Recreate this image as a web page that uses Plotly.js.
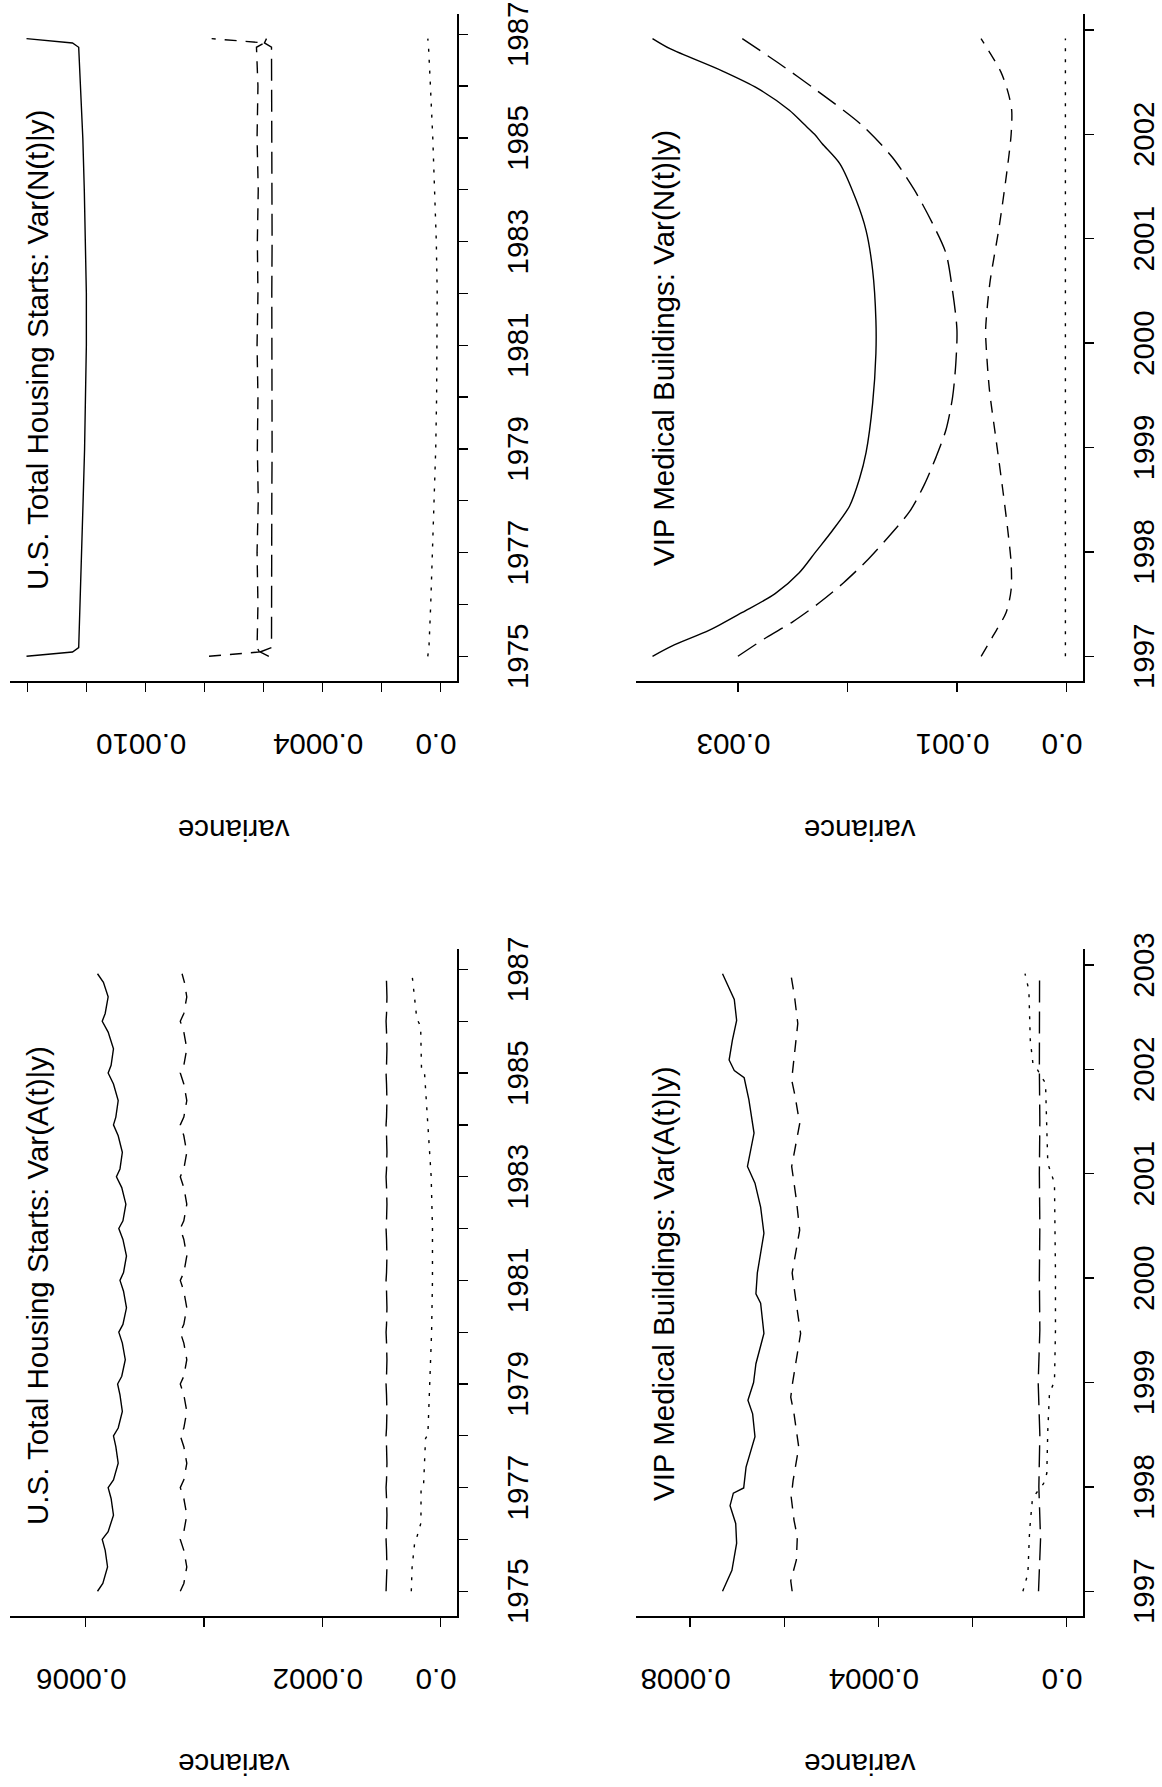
<!DOCTYPE html>
<html>
<head>
<meta charset="utf-8">
<script src="https://cdn.plot.ly/plotly-3.0.1.min.js"></script>
<style>
  html, body { margin: 0; padding: 0; background: #fff; overflow: hidden; }
  body { width: 1162px; height: 1787px; position: relative; }
  /* figure is laid out landscape, then turned a quarter turn to the left (like the printed page) */
  #fig { position: absolute; left: 0; top: 0; width: 1787px; height: 1162px;
         transform-origin: 0 0; transform: translateY(1787px) rotate(-90deg); }
</style>
</head>
<body>
<div id="fig"></div>
<script>
/* =========================
   Data
========================= */
const HOUSING_YEAR_TICKS = [1975, 1976, 1977, 1978, 1979, 1980, 1981, 1982, 1983, 1984, 1985, 1986, 1987];
const HOUSING_YEAR_LABELS = ["1975", "", "1977", "", "1979", "", "1981", "", "1983", "", "1985", "", "1987"];
const MEDICAL_YEAR_TICKS = [1997, 1998, 1999, 2000, 2001, 2002, 2003];
const MEDICAL_YEAR_LABELS = ["1997", "1998", "1999", "2000", "2001", "2002", "2003"];

const HS_A_VAR_TICKS = [0, 0.0002, 0.0004, 0.0006];
const HS_A_VAR_LABELS = ["0.0", "0.0002", "", "0.0006"];
const HS_N_VAR_TICKS = [0, 0.0002, 0.0004, 0.0006, 0.0008, 0.0010, 0.0012, 0.0014];
const HS_N_VAR_LABELS = ["0.0", "", "0.0004", "", "", "0.0010", "", ""];
const MD_A_VAR_TICKS = [0, 0.0002, 0.0004, 0.0006, 0.0008];
const MD_A_VAR_LABELS = ["0.0", "", "0.0004", "", "0.0008"];
const MD_N_VAR_TICKS = [0, 0.001, 0.002, 0.003];
const MD_N_VAR_LABELS = ["0.0", "0.001", "", "0.003"];

const PANEL_TITLES = [
  "U.S. Total Housing Starts: Var(A(t)|y)",
  "U.S. Total Housing Starts: Var(N(t)|y)",
  "VIP Medical Buildings: Var(A(t)|y)",
  "VIP Medical Buildings: Var(N(t)|y)"
];
const AXIS_TITLE = "variance";

// U.S. housing starts, Var(A(t)|y)
const hsA_t = [1975.0, 1975.15, 1975.47, 1975.79, 1976.0, 1976.15, 1976.47, 1976.79, 1977.0, 1977.15, 1977.47, 1977.79,
  1978.0, 1978.15, 1978.47, 1978.79, 1979.0, 1979.15, 1979.47, 1979.79, 1980.0, 1980.15, 1980.47, 1980.79,
  1981.0, 1981.15, 1981.47, 1981.79, 1982.0, 1982.15, 1982.47, 1982.79, 1983.0, 1983.15, 1983.47, 1983.79,
  1984.0, 1984.15, 1984.47, 1984.79, 1985.0, 1985.15, 1985.47, 1985.79, 1986.0, 1986.15, 1986.47, 1986.75, 1986.917];
const hsA_solid = [0.000580, 0.000571, 0.000563, 0.000567, 0.000572, 0.000562, 0.000553, 0.000557, 0.000562, 0.000553, 0.000545, 0.000549,
  0.000553, 0.000545, 0.000538, 0.000542, 0.000546, 0.000539, 0.000533, 0.000538, 0.000544, 0.000537, 0.000531, 0.000536,
  0.000542, 0.000536, 0.000531, 0.000537, 0.000544, 0.000537, 0.000532, 0.000539, 0.000548, 0.000542, 0.000538, 0.000545,
  0.000553, 0.000549, 0.000545, 0.000553, 0.000562, 0.000557, 0.000553, 0.000562, 0.000572, 0.000567, 0.000562, 0.000570, 0.000580];
const hsA_short = [0.000440, 0.000434, 0.000429, 0.000434, 0.000440, 0.000434, 0.000429, 0.000434, 0.000440, 0.000434, 0.000429, 0.000434,
  0.000440, 0.000434, 0.000429, 0.000434, 0.000440, 0.000434, 0.000429, 0.000434, 0.000440, 0.000434, 0.000429, 0.000434,
  0.000440, 0.000434, 0.000429, 0.000434, 0.000440, 0.000434, 0.000429, 0.000434, 0.000440, 0.000434, 0.000429, 0.000434,
  0.000440, 0.000434, 0.000429, 0.000434, 0.000440, 0.000434, 0.000429, 0.000434, 0.000440, 0.000434, 0.000429, 0.000433, 0.000437];
const hsA_long = [0.0000920, 0.0000912, 0.0000905, 0.0000912, 0.0000920, 0.0000912, 0.0000905, 0.0000912, 0.0000920, 0.0000912, 0.0000905, 0.0000912,
  0.0000920, 0.0000912, 0.0000905, 0.0000912, 0.0000920, 0.0000912, 0.0000905, 0.0000912, 0.0000920, 0.0000912, 0.0000905, 0.0000912,
  0.0000920, 0.0000912, 0.0000905, 0.0000912, 0.0000920, 0.0000912, 0.0000905, 0.0000912, 0.0000920, 0.0000912, 0.0000905, 0.0000912,
  0.0000920, 0.0000912, 0.0000905, 0.0000912, 0.0000920, 0.0000912, 0.0000905, 0.0000912, 0.0000920, 0.0000912, 0.0000905, 0.0000912, 0.0000918];
const hsA_dot_t = [1975.0, 1975.46, 1975.93, 1976.06, 1976.32, 1976.98, 1977.04, 1977.95, 1978.02, 1979.0, 1980.0, 1981.0,
  1982.0, 1983.0, 1984.05, 1985.0, 1985.05, 1985.9, 1986.05, 1986.917];
const hsA_dot = [0.0000493, 0.0000480, 0.0000437, 0.0000395, 0.0000330, 0.0000328, 0.0000286, 0.0000252, 0.0000213, 0.0000180, 0.0000150, 0.0000135,
  0.0000135, 0.0000157, 0.0000213, 0.0000269, 0.0000320, 0.0000335, 0.0000400, 0.0000482];

// U.S. housing starts, Var(N(t)|y)
const hsN_t = [1975.0, 1975.083, 1975.167, 1976, 1977, 1978, 1979, 1980, 1981, 1982, 1983, 1984, 1985, 1986, 1986.75, 1986.833, 1986.917];
const hsN_solid = [0.001404, 0.001248, 0.001227, 0.001222, 0.001216, 0.001212, 0.001207, 0.001204, 0.001201, 0.001201, 0.001204, 0.001208, 0.001213, 0.001220, 0.001227, 0.001248, 0.001404];
const hsN_short = [0.000785, 0.000614, 0.000622, 0.000619, 0.000622, 0.000618, 0.000621, 0.000619, 0.000622, 0.000619, 0.000621, 0.000618, 0.000622, 0.000619, 0.000624, 0.000597, 0.000776];
const hsN_long = [0.000582, 0.000612, 0.000573, 0.000572, 0.000573, 0.000572, 0.000571, 0.000572, 0.000571, 0.000572, 0.000571, 0.000572, 0.000573, 0.000572, 0.000573, 0.000597, 0.000590];
const hsN_dot = [0.000043, 0.000041, 0.000039, 0.000033, 0.000027, 0.000021, 0.000016, 0.000013, 0.000011, 0.000011, 0.000014, 0.000019, 0.000026, 0.000034, 0.000039, 0.000041, 0.000043];

// VIP medical buildings, Var(A(t)|y)
const mdA_solid_t = [1997.0, 1997.2, 1997.46, 1997.65, 1997.82, 1997.94, 1997.99, 1998.19, 1998.48, 1998.70, 1998.83, 1999.0, 1999.18,
  1999.47, 1999.76, 1999.85, 2000.05, 2000.43, 2000.68, 2000.91, 2001.07, 2001.39, 2001.71, 2001.92, 2001.99, 2002.09, 2002.28, 2002.47, 2002.67, 2002.917];
const mdA_solid = [0.000731, 0.000711, 0.000701, 0.000703, 0.000715, 0.000708, 0.000686, 0.000681, 0.000662, 0.000667, 0.000677, 0.000665, 0.000660,
  0.000643, 0.000650, 0.000660, 0.000657, 0.000643, 0.000650, 0.000662, 0.000678, 0.000664, 0.000675, 0.000685, 0.000706, 0.000717, 0.000710, 0.000701, 0.000706, 0.000731];
const mdA_short_t = [1997.0, 1997.1, 1997.3, 1997.52, 1997.68, 1997.9, 1998.06, 1998.38, 1998.70, 1998.86, 1999.0, 1999.47, 1999.75,
  2000.05, 2000.46, 2000.75, 2001.07, 2001.48, 2001.75, 2001.9, 2002.44, 2002.7, 2002.917];
const mdA_short = [0.000583, 0.000586, 0.000574, 0.000572, 0.000579, 0.000585, 0.000581, 0.000569, 0.000579, 0.000586, 0.000582, 0.000565, 0.000574,
  0.000583, 0.000567, 0.000574, 0.000584, 0.000567, 0.000577, 0.000584, 0.000571, 0.000578, 0.000586];
const mdA_long_t = [1997.0, 1997.5, 1998.0, 1998.5, 1999.0, 1999.5, 2000.0, 2000.5, 2001.0, 2001.5, 2002.0, 2002.5, 2002.917];
const mdA_long = [0.0000593, 0.0000550, 0.0000586, 0.0000565, 0.0000600, 0.0000565, 0.0000575, 0.0000565, 0.0000575, 0.0000565, 0.0000575, 0.0000568, 0.0000571];
const mdA_dot_t = [1997.0, 1997.17, 1997.58, 1997.87, 1997.94, 1998.03, 1998.13, 1998.54, 1998.90, 1999.01, 1999.5, 2000.05,
  2000.91, 2001.0, 2001.10, 2001.64, 2001.87, 2001.93, 2001.99, 2002.06, 2002.28, 2002.76, 2002.917];
const mdA_dot = [0.0000925, 0.0000819, 0.0000783, 0.0000726, 0.0000641, 0.0000487, 0.0000417, 0.0000396, 0.0000360, 0.0000254, 0.0000233, 0.0000233,
  0.0000254, 0.0000324, 0.0000396, 0.0000430, 0.0000444, 0.0000535, 0.0000607, 0.0000713, 0.0000768, 0.0000798, 0.0000880];

// VIP medical buildings, Var(N(t)|y)
const mdN_solid_t = [1997.0, 1997.1, 1997.25, 1997.42, 1997.6, 1997.8, 1998.0, 1998.2, 1998.44, 1998.7, 1998.95, 1999.42, 1999.9,
  2000.22, 2000.7, 2001.08, 2001.37, 2001.72, 2001.91, 2002.0, 2002.1, 2002.23, 2002.44, 2002.61, 2002.82, 2002.917];
const mdN_solid = [0.00378, 0.00360, 0.00326, 0.00296, 0.00266, 0.00244, 0.00229, 0.00214, 0.00198, 0.00189, 0.00183, 0.00177, 0.00174,
  0.00174, 0.00177, 0.00183, 0.00192, 0.00207, 0.00223, 0.00230, 0.00240, 0.00253, 0.00282, 0.00315, 0.00362, 0.00378];
const mdN_long_t = [1997.0, 1997.18, 1997.33, 1997.51, 1997.70, 1997.93, 1998.15, 1998.39, 1998.64, 1998.91, 1999.17, 1999.48,
  1999.81, 2000.13, 2000.50, 2000.86, 2001.14, 2001.47, 2001.78, 2002.09, 2002.42, 2002.69, 2002.917];
const mdN_long = [0.00300, 0.00274, 0.00250, 0.00226, 0.00204, 0.00181, 0.00162, 0.00143, 0.00130, 0.00119, 0.00110, 0.00104,
  0.00101, 0.00100, 0.00104, 0.00110, 0.00122, 0.00139, 0.00159, 0.00187, 0.00228, 0.00264, 0.00296];
const mdN_short_t = [1997.0, 1997.19, 1997.42, 1997.64, 1997.89, 1998.21, 1998.60, 1999.07, 1999.55, 1999.97, 2000.13, 2000.57,
  2001.11, 2001.69, 2002.0, 2002.23, 2002.39, 2002.6, 2002.917];
const mdN_short = [0.000779, 0.000673, 0.000551, 0.000505, 0.000505, 0.000536, 0.000582, 0.000642, 0.000703, 0.000733, 0.000738, 0.000700,
  0.000615, 0.000538, 0.000505, 0.000500, 0.000530, 0.000600, 0.000780];
const mdN_dot_t = [1997.0, 1998.0, 1999.0, 2000.0, 2001.0, 2002.0, 2002.917];
const mdN_dot = [0.0000095, 0.0000094, 0.0000093, 0.0000093, 0.0000093, 0.0000094, 0.0000095];

/* =========================
   Plotly plotting
========================= */
const FONT = "Liberation Sans, Arial, Helvetica, sans-serif";
const FSIZE = 29.5;
const DASH = { solid: "solid", short: "12px,9px", long: "22px,9px", dot: "3px,8px" };

// plot regions (paper fractions of the landscape page)
const COL_A = [0.0957, 0.4689];
const COL_N = [0.6189, 0.9922];
const ROW_HS = [0.6067, 0.9914];
const ROW_MD = [0.0680, 0.4527];

function line(x, y, dash, ax, smooth) {
  return {
    x: x, y: y, type: "scatter", mode: "lines",
    line: { color: "#000", width: 1.4, dash: DASH[dash], shape: smooth ? "spline" : "linear", smoothing: 0.8 },
    xaxis: "x" + ax, yaxis: "y" + ax, hoverinfo: "skip", showlegend: false
  };
}

function yearAxis(domain, anchor, range, vals, text) {
  return {
    domain: domain, anchor: anchor, range: range, autorange: false,
    tickmode: "array", tickvals: vals, ticktext: text, tickangle: 0,
    ticks: "outside", ticklen: 9, tickwidth: 1.3, tickcolor: "#000",
    showline: true, linecolor: "#000", linewidth: 1.6, mirror: false,
    showgrid: false, zeroline: false, automargin: false, fixedrange: true,
    ticklabelstandoff: 25,
    tickfont: { family: FONT, size: FSIZE, color: "#000" }
  };
}

function varAxis(domain, anchor, range, vals, text) {
  return {
    domain: domain, anchor: anchor, range: range, autorange: false,
    tickmode: "array", tickvals: vals, ticktext: text, tickangle: -90,
    ticks: "outside", ticklen: 9, tickwidth: 1.3, tickcolor: "#000",
    showline: true, linecolor: "#000", linewidth: 1.6, mirror: false,
    showgrid: false, zeroline: false, automargin: false, fixedrange: true,
    ticklabelstandoff: 31,
    tickfont: { family: FONT, size: FSIZE, color: "#000" }
  };
}

function panelNotes(ax, title, titleX) {
  const xr = "x" + ax + " domain", yr = "y" + ax + " domain";
  return [
    { xref: xr, yref: yr, x: titleX, y: 0.98, xanchor: "left", yanchor: "top", showarrow: false,
      text: title, font: { family: FONT, size: FSIZE, color: "#000" } },
    { xref: xr, yref: yr, x: -0.2234, y: 0.5, xanchor: "center", yanchor: "middle", showarrow: false,
      textangle: -90, text: AXIS_TITLE, font: { family: FONT, size: FSIZE, color: "#000" } }
  ];
}

function drawFigure() {
  const traces = [
    line(hsA_t, hsA_solid, "solid", ""),
    line(hsA_t, hsA_short, "short", ""),
    line(hsA_t, hsA_long, "long", ""),
    line(hsA_dot_t, hsA_dot, "dot", ""),

    line(hsN_t, hsN_solid, "solid", "2"),
    line(hsN_t, hsN_short, "short", "2"),
    line(hsN_t, hsN_long, "long", "2"),
    line(hsN_t, hsN_dot, "dot", "2"),

    line(mdA_solid_t, mdA_solid, "solid", "3"),
    line(mdA_short_t, mdA_short, "short", "3"),
    line(mdA_long_t, mdA_long, "long", "3"),
    line(mdA_dot_t, mdA_dot, "dot", "3"),

    line(mdN_solid_t, mdN_solid, "solid", "4", true),
    line(mdN_long_t, mdN_long, "long", "4", true),
    line(mdN_short_t, mdN_short, "short", "4", true),
    line(mdN_dot_t, mdN_dot, "dot", "4")
  ];

  const hsRange = [1974.523, 1987.393];
  const mdRange = [1996.763, 2003.153];

  const layout = {
    width: 1787, height: 1162,
    margin: { l: 0, r: 0, t: 0, b: 0 },
    paper_bgcolor: "#fff", plot_bgcolor: "#fff",
    font: { family: FONT, size: FSIZE, color: "#000" },
    showlegend: false,
    xaxis: yearAxis(COL_A, "y", hsRange, HOUSING_YEAR_TICKS, HOUSING_YEAR_LABELS),
    yaxis: varAxis(ROW_HS, "x", [-0.000028, 0.000728], HS_A_VAR_TICKS, HS_A_VAR_LABELS),
    xaxis2: yearAxis(COL_N, "y2", hsRange, HOUSING_YEAR_TICKS, HOUSING_YEAR_LABELS),
    yaxis2: varAxis(ROW_HS, "x2", [-0.0000562, 0.00146], HS_N_VAR_TICKS, HS_N_VAR_LABELS),
    xaxis3: yearAxis(COL_A, "y3", mdRange, MEDICAL_YEAR_TICKS, MEDICAL_YEAR_LABELS),
    yaxis3: varAxis(ROW_MD, "x3", [-0.0000352, 0.000915], MD_A_VAR_TICKS, MD_A_VAR_LABELS),
    xaxis4: yearAxis(COL_N, "y4", mdRange, MEDICAL_YEAR_TICKS, MEDICAL_YEAR_LABELS),
    yaxis4: varAxis(ROW_MD, "x4", [-0.000151, 0.003931], MD_N_VAR_TICKS, MD_N_VAR_LABELS),
    annotations: [].concat(
      panelNotes("", PANEL_TITLES[0], 0.1334),
      panelNotes("2", PANEL_TITLES[1], 0.1334),
      panelNotes("3", PANEL_TITLES[2], 0.1694),
      panelNotes("4", PANEL_TITLES[3], 0.1694)
    )
  };

  Plotly.newPlot("fig", traces, layout, { displayModeBar: false, staticPlot: true });
}

drawFigure();
</script>
</body>
</html>
